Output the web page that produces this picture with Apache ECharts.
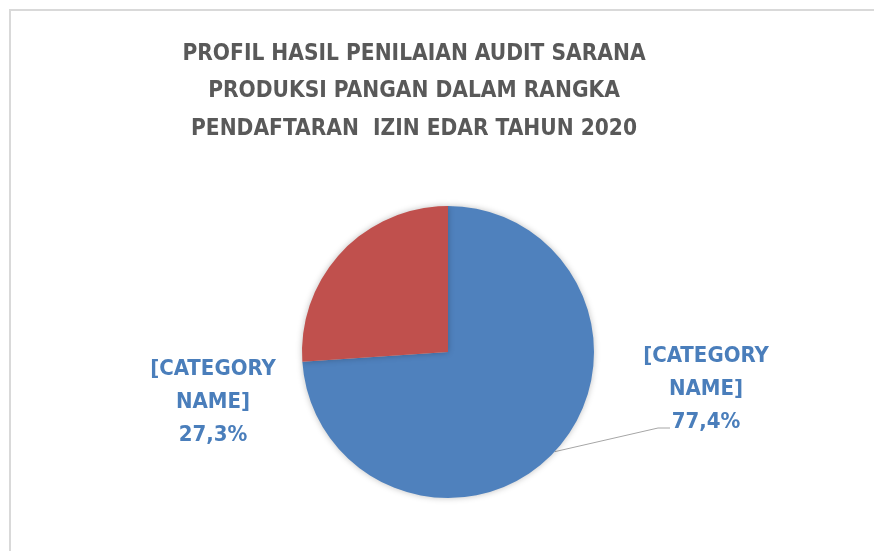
<!DOCTYPE html>
<html>
<head>
<meta charset="utf-8">
<script src="https://cdn.jsdelivr.net/npm/echarts@6/dist/echarts.min.js"></script>
<style>
  html, body { margin: 0; padding: 0; background: #fff; }
  #chart { width: 874px; height: 551px; }
</style>
</head>
<body>
<div id="chart"></div>
<script>
// data
const categories = ['[CATEGORY NAME]', '[CATEGORY NAME]']
const values = [77.4, 27.3]
const colors = ['#4f81bd', '#c0504d']
const titleText = 'PROFIL HASIL PENILAIAN AUDIT SARANA\nPRODUKSI PANGAN DALAM RANGKA\nPENDAFTARAN  IZIN EDAR TAHUN 2020'

const font = '"DejaVu Sans Condensed", sans-serif'
let chart = echarts.init(document.getElementById('chart'))

let pieData = []
for (let i = 0; i < values.length; i++) {
  pieData.push({
    name: categories[i],
    value: values[i],
    itemStyle: { color: colors[i] },
    labelLine: { show: i === 0 }
  })
}

let option = {
  animation: false,
  graphic: [{
    type: 'rect',
    shape: { x: 10, y: 10, width: 2000, height: 2000 },
    style: { fill: 'none', stroke: '#d9d9d9', lineWidth: 2 }
  }],
  title: {
    text: titleText,
    left: 409,
    top: 30,
    textAlign: 'center',
    textStyle: {
      fontFamily: font,
      fontSize: 22.5,
      lineHeight: 37.5,
      fontWeight: 'bold',
      color: '#595959'
    }
  },
  series: [{
    type: 'pie',
    center: [448, 352],
    radius: 146,
    startAngle: 90,
    clockwise: true,
    data: pieData,
    itemStyle: {
      shadowBlur: 6,
      shadowColor: 'rgba(0,0,0,0.25)'
    },
    label: {
      show: true,
      position: 'outside',
      fontFamily: font,
      fontSize: 22,
      lineHeight: 33,
      fontWeight: 'bold',
      color: '#4a7ebb',
      align: 'center',
      formatter: function (p) {
        return p.name.replace(' ', '\n') + '\n' + p.value.toFixed(1).replace('.', ',') + '%'
      }
    },
    labelLine: {
      lineStyle: { color: '#a6a6a6', width: 1 }
    },
    labelLayout: function (params) {
      if (params.dataIndex === 0) {
        let start = params.labelLinePoints ? params.labelLinePoints[0] : [556, 450]
        return {
          x: 706, y: 389, align: 'center', verticalAlign: 'middle',
          labelLinePoints: [start, [658, 428], [670, 428]]
        }
      }
      return { x: 213, y: 402, align: 'center', verticalAlign: 'middle' }
    }
  }]
}
chart.setOption(option)
</script>
</body>
</html>
